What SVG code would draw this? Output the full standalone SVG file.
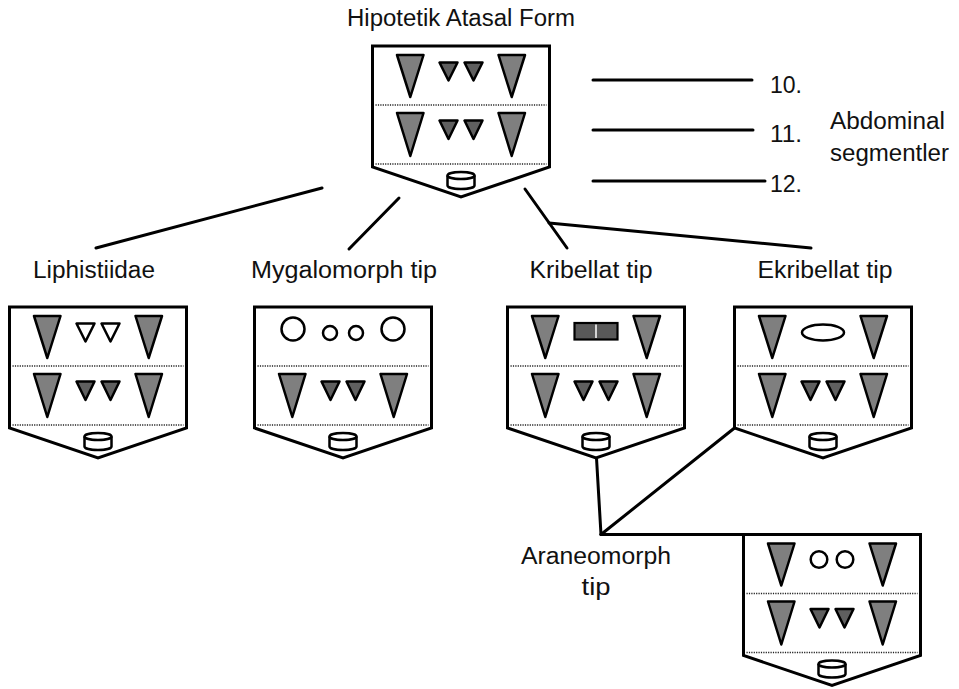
<svg xmlns="http://www.w3.org/2000/svg" width="959" height="689" viewBox="0 0 959 689">
<style>
text{font-family:"Liberation Sans","Open Sans",Arial,sans-serif;font-size:23px;fill:#111}
.outline{fill:#fff;stroke:#000;stroke-width:3;stroke-linejoin:miter}
.dot{stroke:#222;stroke-width:1.3;stroke-dasharray:1.2 1.2;fill:none}
.big{fill:#7f7f7f;stroke:#000;stroke-width:2.5;stroke-linejoin:round}
.sm{fill:#5f5f5f;stroke:#000;stroke-width:2.5;stroke-linejoin:round}
.smw{fill:#fff;stroke:#000;stroke-width:2.5;stroke-linejoin:round}
.wh{fill:#fff;stroke:#000;stroke-width:2.5}
.conn line{stroke:#000;stroke-width:3;stroke-linecap:round}
</style>
<defs>
<g id="shell">
<path class="outline" d="M0,0H177V121L88.5,151L0,121Z"/>
<line class="dot" x1="3" y1="59" x2="174" y2="59"/>
<line class="dot" x1="3" y1="118" x2="174" y2="118"/>
<path class="wh" d="M75,129.5V139.5A13.5,3.5 0 0 0 102,139.5V129.5"/>
<ellipse class="wh" cx="88.5" cy="129.5" rx="13.5" ry="3.5"/>
</g>
<g id="bigs1">
<polygon class="big" points="24.5,9 51,9 37.8,51"/>
<polygon class="big" points="126,9 152.5,9 139.2,51"/>
</g>
<g id="row2">
<polygon class="big" points="24.5,67 51,67 37.8,110"/>
<polygon class="big" points="126,67 152.5,67 139.2,110"/>
<polygon class="sm" points="67,74.5 85,74.5 76,93"/>
<polygon class="sm" points="92,74.5 110,74.5 101,93"/>
</g>
</defs>

<g class="conn" id="connectors">
<line x1="322" y1="188" x2="96" y2="248"/>
<line x1="399" y1="198" x2="349" y2="249"/>
<line x1="525" y1="189" x2="567" y2="248"/>
<line x1="549" y1="223" x2="811" y2="248"/>
<line x1="593" y1="80" x2="752" y2="80"/>
<line x1="593" y1="130" x2="753" y2="130"/>
<line x1="593" y1="181" x2="765" y2="181"/>
<line x1="596.5" y1="458" x2="601" y2="534.5"/>
<line x1="601" y1="534.5" x2="734.5" y2="428"/>
<line x1="601" y1="534.5" x2="744" y2="534.5"/>
</g>

<g id="node-ancestor" transform="translate(372.5,46)">
<use href="#shell"/>
<use href="#bigs1"/>
<polygon class="sm" points="67,16.5 85,16.5 76,34.5"/>
<polygon class="sm" points="92,16.5 110,16.5 101,34.5"/>
<use href="#row2"/>
</g>

<g id="node-liphistiidae" transform="translate(9.5,307)">
<use href="#shell"/>
<use href="#bigs1"/>
<polygon class="smw" points="67,16.5 85,16.5 76,34.5"/>
<polygon class="smw" points="92,16.5 110,16.5 101,34.5"/>
<use href="#row2"/>
</g>

<g id="node-mygalomorph" transform="translate(254.5,307)">
<use href="#shell"/>
<circle class="wh" cx="38.5" cy="22" r="11.5"/>
<circle class="wh" cx="138.5" cy="22" r="11.5"/>
<circle class="wh" cx="75.5" cy="26" r="7"/>
<circle class="wh" cx="101.5" cy="26" r="7"/>
<use href="#row2"/>
</g>

<g id="node-kribellat" transform="translate(507.5,307)">
<use href="#shell"/>
<use href="#bigs1"/>
<rect x="67" y="16" width="43" height="16.5" fill="#595959" stroke="#000" stroke-width="2.2"/>
<line x1="88.5" y1="17.5" x2="88.5" y2="31" stroke="#fff" stroke-width="1.5"/>
<use href="#row2"/>
</g>

<g id="node-ekribellat" transform="translate(734.5,307)">
<use href="#shell"/>
<use href="#bigs1"/>
<ellipse class="wh" cx="88.5" cy="25.5" rx="21" ry="8"/>
<use href="#row2"/>
</g>

<g id="node-araneomorph" transform="translate(743.5,534.5)">
<use href="#shell"/>
<use href="#bigs1"/>
<circle class="wh" cx="75.5" cy="25" r="8.3"/>
<circle class="wh" cx="101.5" cy="25" r="8.3"/>
<use href="#row2"/>
</g>

<g id="labels">
<text x="461" y="26" text-anchor="middle" textLength="228" lengthAdjust="spacingAndGlyphs">Hipotetik Atasal Form</text>
<text x="94" y="278" text-anchor="middle" textLength="122" lengthAdjust="spacingAndGlyphs">Liphistiidae</text>
<text x="344" y="278" text-anchor="middle" textLength="186" lengthAdjust="spacingAndGlyphs">Mygalomorph tip</text>
<text x="591" y="278" text-anchor="middle" textLength="123" lengthAdjust="spacingAndGlyphs">Kribellat tip</text>
<text x="825" y="278" text-anchor="middle" textLength="135" lengthAdjust="spacingAndGlyphs">Ekribellat tip</text>
<text x="770" y="93" textLength="32" lengthAdjust="spacingAndGlyphs">10.</text>
<text x="770" y="142" textLength="32" lengthAdjust="spacingAndGlyphs">11.</text>
<text x="770" y="192" textLength="32" lengthAdjust="spacingAndGlyphs">12.</text>
<text x="830" y="129" textLength="115" lengthAdjust="spacingAndGlyphs">Abdominal</text>
<text x="830" y="161" textLength="119" lengthAdjust="spacingAndGlyphs">segmentler</text>
<text x="596" y="564" text-anchor="middle" textLength="150" lengthAdjust="spacingAndGlyphs">Araneomorph</text>
<text x="596" y="595" text-anchor="middle" textLength="29" lengthAdjust="spacingAndGlyphs">tip</text>
</g>
</svg>
